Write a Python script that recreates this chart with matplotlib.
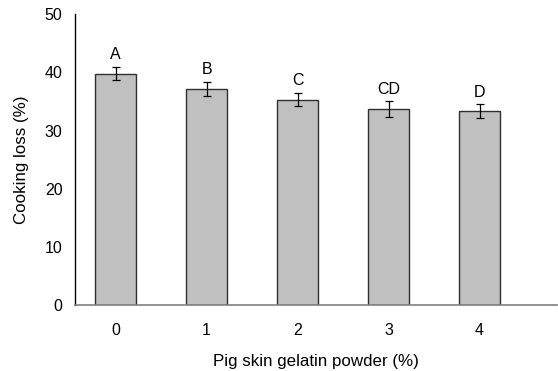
import matplotlib
matplotlib.use("Agg")
import matplotlib.pyplot as plt

categories = ["0", "1", "2", "3", "4"]
values = [39.8, 37.2, 35.3, 33.7, 33.3]
errors = [1.2, 1.2, 1.1, 1.3, 1.2]
letters = ["A", "B", "C", "CD", "D"]

plt.rcParams['font.family'] = ['Liberation Sans', 'DejaVu Sans']

fig = plt.figure(figsize=(5.58, 3.71), dpi=100)
ax = fig.add_axes([0.1344, 0.177, 0.998 - 0.1344, 0.962 - 0.177])

x = list(range(len(categories)))
ax.bar(x, values, width=0.45, color='#c0c0c0', edgecolor='#303030', linewidth=1.0, zorder=2)
ax.errorbar(x, values, yerr=errors, fmt='none', ecolor='black', elinewidth=0.9,
            capsize=3, capthick=0.9, zorder=3)
for xi, v, e, t in zip(x, values, errors, letters):
    ax.annotate(t, (xi, v + e), xytext=(0, 3.5), textcoords='offset points',
                ha='center', va='bottom', fontsize=11.5)

ax.set_xlim(-0.447, 4.85)
ax.set_ylim(0, 50)
ax.set_yticks([0, 10, 20, 30, 40, 50])
ax.set_xticks(x)
ax.set_xticklabels(categories)
ax.tick_params(axis='both', length=0, labelsize=11.5)
ax.tick_params(axis='y', pad=9)
ax.tick_params(axis='x', pad=13)
for s in ['top', 'right']:
    ax.spines[s].set_visible(False)
ax.spines['left'].set_color('black')
ax.spines['left'].set_linewidth(1.0)
ax.spines['bottom'].set_color('#808080')
ax.spines['bottom'].set_linewidth(1.2)
ax.set_xlabel('Pig skin gelatin powder (%)', fontsize=12.2, labelpad=11)
ax.set_ylabel('Cooking loss (%)', fontsize=12.2, labelpad=11)

fig.savefig('out.png', dpi=100)
